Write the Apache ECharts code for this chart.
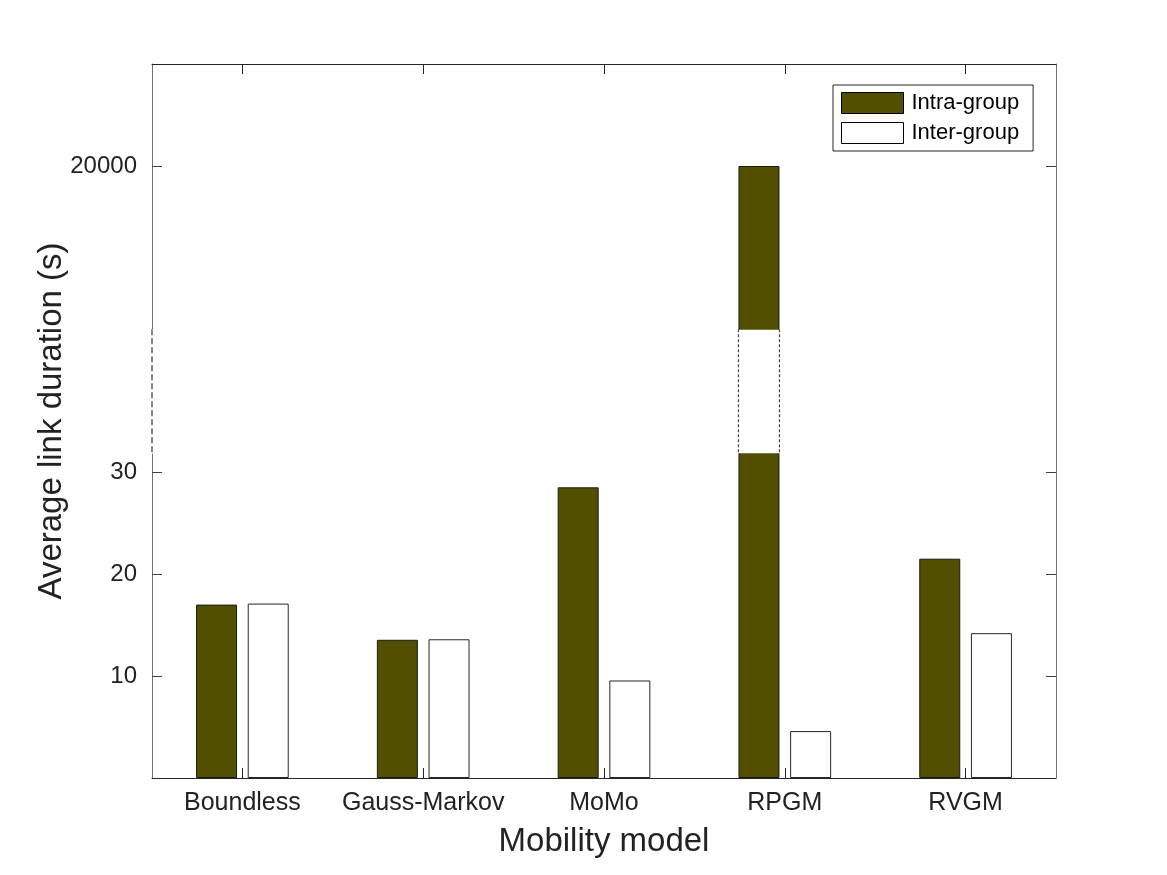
<!DOCTYPE html>
<html>
<head>
<meta charset="utf-8">
<script src="https://cdn.jsdelivr.net/npm/echarts@6/dist/echarts.min.js"></script>
<style>
html,body{margin:0;padding:0;background:#fff;}
#chart{width:1167px;height:875px;}
</style>
</head>
<body>
<div id="chart"></div>
<script>
// ---- data ----
const categories = ['Boundless', 'Gauss-Markov', 'MoMo', 'RPGM', 'RVGM'];
const intraGroup = [17.0, 13.55, 28.5, 20000, 21.5];
const interGroup = [17.1, 13.6, 9.56, 4.6, 14.2];
const yTickValues = [10, 20, 30, 20000];
const seriesNames = ['Intra-group', 'Inter-group'];

// broken y axis: real values between breakFrom and breakTo are squeezed into a gap
const breakFrom = 31.8;
const breakTo = 19984;
const breakGap = 12.2;
function toDisplay(v) {
  if (v <= breakFrom) return v;
  if (v >= breakTo) return v - (breakTo - breakFrom) + breakGap;
  return breakFrom + breakGap * (v - breakFrom) / (breakTo - breakFrom);
}
const breakLowDisp = toDisplay(breakFrom);
const breakHighDisp = toDisplay(breakTo);
const tickDisp = yTickValues.map(toDisplay);
const tickLabelMap = {};
tickDisp.forEach((d, i) => { tickLabelMap[d.toFixed(4)] = String(yTickValues[i]); });

const FONT = '"Liberation Sans", Arial, Helvetica, sans-serif';
const BAR_W = 41, BAR_GAP = '26%';

const chart = echarts.init(document.getElementById('chart'), null, {renderer: 'canvas'});

const brokenBars = categories.map((c, i) => intraGroup[i] > breakFrom ? [i, breakFrom, breakTo] : null).filter(Boolean);

const option = {
  backgroundColor: '#fff',
  animation: false,
  textStyle: {fontFamily: FONT},
  grid: {left: 152, right: 111, top: 64, bottom: 97, containLabel: false},
  legend: {
    data: seriesNames,
    orient: 'vertical',
    left: 833, top: 85,
    itemWidth: 62, itemHeight: 21, itemGap: 8,
    padding: [7, 14, 7, 8],
    borderColor: '#262626', borderWidth: 1, borderRadius: 0,
    backgroundColor: '#fff',
    icon: 'rect',
    itemStyle: {borderColor: '#000', borderWidth: 1},
    textStyle: {fontSize: 22, color: '#000', fontFamily: FONT, padding: [0, 0, 0, 3]}
  },
  xAxis: [
    {
      type: 'category', data: categories, position: 'bottom',
      axisLine: {show: true, onZero: false, lineStyle: {color: '#262626', width: 1}},
      axisTick: {show: true, interval: 0, inside: true, length: 10, alignWithLabel: true, lineStyle: {color: '#262626'}},
      axisLabel: {show: true, interval: 0, fontSize: 25, color: '#222', margin: 13, fontFamily: FONT},
      name: 'Mobility model', nameLocation: 'middle', nameGap: 47, nameMoveOverlap: false,
      nameTextStyle: {fontSize: 33, color: '#222', fontFamily: FONT},
      splitLine: {show: false}
    },
    {
      type: 'category', data: categories, position: 'top',
      axisLine: {show: true, onZero: false, lineStyle: {color: '#262626', width: 1}},
      axisTick: {show: true, interval: 0, inside: true, length: 10, alignWithLabel: true, lineStyle: {color: '#262626'}},
      axisLabel: {show: false, interval: 0},
      splitLine: {show: false}
    }
  ],
  yAxis: [
    {
      type: 'value', min: 0, max: 70, position: 'left',
      axisLine: {show: true, onZero: false, lineStyle: {color: '#707070', width: 1}},
      axisTick: {show: true, inside: true, length: 10, customValues: tickDisp, lineStyle: {color: '#404040'}},
      axisLabel: {
        show: true, customValues: tickDisp, fontSize: 24, color: '#222', margin: 15, fontFamily: FONT,
        formatter: v => tickLabelMap[Number(v).toFixed(4)] || ''
      },
      splitLine: {show: false},
      name: 'Average link duration (s)', nameLocation: 'middle', nameRotate: 90, nameGap: 84, nameMoveOverlap: false,
      nameTextStyle: {fontSize: 33, color: '#222', fontFamily: FONT}
    },
    {
      type: 'value', min: 0, max: 70, position: 'right',
      axisLine: {show: true, onZero: false, lineStyle: {color: '#707070', width: 1}},
      axisTick: {show: true, inside: true, length: 10, customValues: tickDisp, lineStyle: {color: '#404040'}},
      axisLabel: {show: false},
      splitLine: {show: false}
    }
  ],
  series: [
    {
      name: seriesNames[0], type: 'bar', xAxisIndex: 0, yAxisIndex: 0,
      data: intraGroup.map(toDisplay),
      barWidth: BAR_W, barGap: BAR_GAP,
      itemStyle: {color: '#525000', borderColor: '#1a1a1a', borderWidth: 1},
      emphasis: {disabled: true}
    },
    {
      name: seriesNames[1], type: 'bar', xAxisIndex: 0, yAxisIndex: 0,
      data: interGroup.map(toDisplay),
      barWidth: BAR_W, barGap: BAR_GAP,
      itemStyle: {color: '#ffffff', borderColor: '#262626', borderWidth: 1},
      emphasis: {disabled: true}
    },
    {
      // break marks on the broken bar(s)
      name: 'barBreak', type: 'custom', xAxisIndex: 0, yAxisIndex: 0, z: 5, clip: false,
      silent: true,
      data: brokenBars,
      renderItem: function (params, api) {
        const layout = api.barLayout({barWidth: BAR_W, barGap: BAR_GAP, count: 2});
        const idx = api.value(0);
        const pLow = api.coord([idx, toDisplay(api.value(1))]);
        const pHigh = api.coord([idx, toDisplay(api.value(2))]);
        const cx = pLow[0] + layout[0].offsetCenter;
        const x0 = cx - layout[0].width / 2, x1 = cx + layout[0].width / 2;
        const dash = {stroke: '#444', lineWidth: 1.2, lineDash: [3, 2]};
        return {
          type: 'group',
          children: [
            {type: 'rect', shape: {x: x0 - 1, y: pHigh[1] + 0.5, width: x1 - x0 + 2, height: pLow[1] - pHigh[1] - 1}, style: {fill: '#fff'}},
            {type: 'line', shape: {x1: x0, y1: pHigh[1], x2: x0, y2: pLow[1]}, style: dash},
            {type: 'line', shape: {x1: x1, y1: pHigh[1], x2: x1, y2: pLow[1]}, style: dash}
          ]
        };
      }
    },
    {
      // break mark on the left axis line
      name: 'axisBreak', type: 'custom', xAxisIndex: 0, yAxisIndex: 0, z: 5, clip: false,
      silent: true,
      data: [[0, breakLowDisp, breakHighDisp]],
      renderItem: function (params, api) {
        const pLow = api.coord([0, api.value(1)]);
        const pHigh = api.coord([0, api.value(2)]);
        const x = params.coordSys.x;
        return {
          type: 'group',
          children: [
            {type: 'line', shape: {x1: x, y1: pHigh[1], x2: x, y2: pLow[1]}, style: {stroke: '#fff', lineWidth: 3}},
            {type: 'line', shape: {x1: x, y1: pHigh[1], x2: x, y2: pLow[1]}, style: {stroke: '#666', lineWidth: 1.6, lineDash: [6, 3]}}
          ]
        };
      }
    }
  ]
};
chart.setOption(option);
</script>
</body>
</html>
